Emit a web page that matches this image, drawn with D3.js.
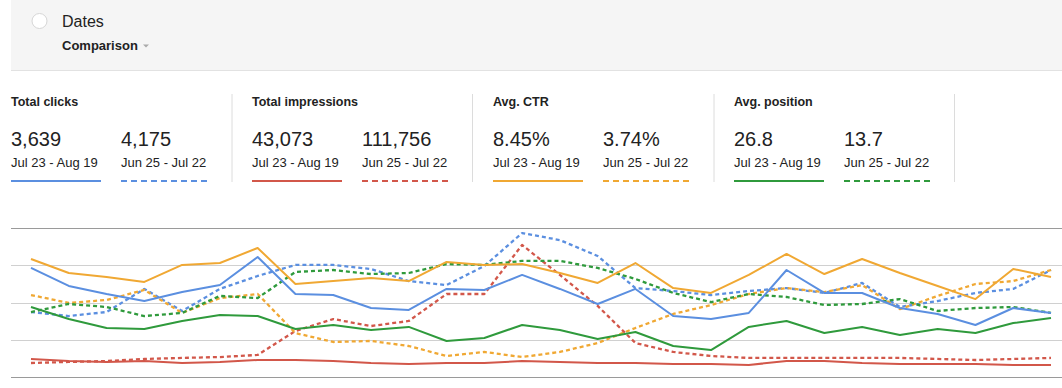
<!DOCTYPE html>
<html>
<head>
<meta charset="utf-8">
<script src="https://cdn.jsdelivr.net/npm/d3@7"></script>
<style>
    body { margin: 0; background: #fff; font-family: Arial, "Liberation Sans", sans-serif; }
</style>
</head>
<body>
<div id="chart"></div>
<script>
    // dagen van de huidige periode (Jul 23 - Aug 19)
    var days = [];
    for (var d = 0; d < 28; d++) {
        days.push(d3.timeFormat("%b %d")(new Date(2018, 6, 23 + d)));
    }

    // waarden, elke reeks op eigen schaal (0-100 = hoogte grafiek)
    var clicksNow = [73.2, 61.1, 55.7, 51.0, 57.0, 61.7, 80.5, 55.7, 55.0, 46.3, 45.0, 59.1, 58.4, 68.5, 59.1, 49.0, 59.1, 40.9, 38.9, 43.0, 71.8, 56.4, 56.4, 46.3, 42.3, 34.9, 46.3, 43.0];
    var clicksPrev = [43.6, 40.9, 43.6, 59.1, 44.3, 59.1, 67.8, 75.2, 75.2, 72.5, 64.4, 61.7, 74.5, 96.6, 91.9, 81.2, 59.7, 57.7, 55.0, 57.7, 59.7, 56.4, 63.1, 47.0, 51.0, 56.4, 59.1, 71.8];
    var imprNow = [12.1, 10.7, 10.1, 10.7, 9.4, 10.1, 11.4, 11.4, 10.7, 9.4, 8.7, 9.4, 9.4, 10.7, 10.1, 9.4, 9.4, 8.7, 8.7, 8.1, 10.7, 10.7, 9.4, 8.7, 8.7, 8.7, 8.1, 8.1];
    var imprPrev = [9.4, 10.1, 10.7, 12.1, 12.8, 13.4, 14.8, 30.9, 38.9, 34.2, 37.6, 55.7, 55.7, 88.6, 68.5, 47.7, 22.8, 16.8, 14.1, 12.8, 12.8, 12.8, 12.8, 12.8, 12.1, 11.4, 12.1, 12.8];
    var ctrNow = [79.2, 69.8, 67.1, 63.8, 75.2, 76.5, 86.6, 62.4, 64.4, 66.4, 64.4, 77.2, 75.2, 75.8, 69.8, 63.1, 76.5, 59.7, 56.4, 68.5, 82.6, 69.1, 79.2, 69.8, 61.1, 52.3, 72.5, 67.1];
    var ctrPrev = [55.0, 49.7, 51.7, 58.4, 43.0, 53.0, 55.7, 29.5, 23.5, 24.2, 20.8, 14.1, 16.8, 13.4, 16.8, 22.8, 32.9, 42.3, 48.3, 55.7, 59.7, 57.0, 61.7, 45.6, 54.4, 62.4, 64.4, 71.8];
    var posNow = [47.0, 38.9, 32.9, 32.2, 37.6, 41.6, 40.9, 32.2, 34.9, 31.5, 33.6, 24.2, 26.2, 34.9, 31.5, 25.5, 30.2, 20.8, 18.1, 33.6, 37.6, 29.5, 33.6, 28.2, 32.2, 29.5, 36.2, 39.6];
    var posPrev = [43.6, 49.0, 47.0, 40.9, 43.0, 54.4, 53.0, 70.5, 71.8, 69.1, 69.8, 75.8, 75.2, 77.9, 77.9, 73.2, 65.8, 56.4, 50.3, 55.7, 53.7, 48.3, 49.0, 52.3, 44.3, 46.3, 47.0, 43.0];

    var metricNames = ["Total clicks", "Total impressions", "Avg. CTR", "Avg. position"];
    var metricNow = ["3,639", "43,073", "8.45%", "26.8"];
    var metricPrev = ["4,175", "111,756", "3.74%", "13.7"];
    var periodNow = "Jul 23 - Aug 19";
    var periodPrev = "Jun 25 - Jul 22";
    var gridTicks = [0, 25, 50, 75, 100];

    var colors = ["#5b8fe0", "#d2574a", "#f0a833", "#2f9a3c"];

    var width = 1062;
    var height = 388;

    var svg = d3.select("#chart")
        .append("svg")
        .attr("width", width)
        .attr("height", height)
        .style("display", "block");

    // kopbalk
    svg.append("rect")
        .attr("x", 11).attr("y", 0)
        .attr("width", width - 11).attr("height", 70)
        .attr("fill", "#f5f5f5");
    svg.append("line")
        .attr("x1", 11).attr("x2", width)
        .attr("y1", 70.5).attr("y2", 70.5)
        .style("stroke", "#e2e2e2");
    svg.append("circle")
        .attr("cx", 39.5).attr("cy", 21)
        .attr("r", 7.5)
        .attr("fill", "#fff")
        .style("stroke", "#d6d6d6");
    svg.append("text")
        .attr("x", 62).attr("y", 27)
        .style("font-size", "16px")
        .style("fill", "#222")
        .text("Dates");
    svg.append("text")
        .attr("x", 62).attr("y", 50)
        .style("font-size", "13px")
        .style("font-weight", "bold")
        .style("fill", "#222")
        .text("Comparison");
    svg.append("path")
        .attr("d", "M143,44.5 L149,44.5 L146,47.5 Z")
        .attr("fill", "#aaa");

    // kaarten met totalen
    var cardX = [11, 252, 493, 734];
    var sepX = [232, 472.5, 714, 954.5];

    var cards = svg.selectAll(".card")
        .data(metricNames)
        .enter()
        .append("g")
        .attr("class", "card")
        .attr("transform", function (d, i) { return "translate(" + cardX[i] + ",0)"; });

    cards.append("text")
        .attr("x", 0).attr("y", 106)
        .style("font-size", "12.5px")
        .style("font-weight", "bold")
        .style("fill", "#222")
        .text(function (d) { return d; });

    [0, 110].forEach(function (off, k) {
        cards.append("text")
            .attr("x", off).attr("y", 146)
            .style("font-size", "20px")
            .style("fill", "#222")
            .text(function (d, i) { return k == 0 ? metricNow[i] : metricPrev[i]; });
        cards.append("text")
            .attr("x", off).attr("y", 166.5)
            .style("font-size", "13px")
            .style("fill", "#222")
            .text(k == 0 ? periodNow : periodPrev);
        cards.append("line")
            .attr("x1", off).attr("x2", off + 90)
            .attr("y1", 181).attr("y2", 181)
            .style("stroke", function (d, i) { return colors[i]; })
            .style("stroke-width", 2)
            .style("stroke-dasharray", k == 0 ? null : "6,4");
    });

    svg.selectAll(".sep")
        .data(sepX)
        .enter()
        .append("line")
        .attr("class", "sep")
        .attr("x1", function (d) { return d; })
        .attr("x2", function (d) { return d; })
        .attr("y1", 94).attr("y2", 182)
        .style("stroke", "#dcdcdc");

    // grafiek
    var x = d3.scalePoint()
        .domain(days)
        .range([31, 1051]);

    var y = d3.scaleLinear()
        .domain([0, 100])
        .range([377, 228]);

    svg.append("g")
        .selectAll("line")
        .data(gridTicks)
        .enter()
        .append("line")
        .attr("x1", 11).attr("x2", width)
        .attr("y1", function (d) { return Math.round(y(d)) + 0.5; })
        .attr("y2", function (d) { return Math.round(y(d)) + 0.5; })
        .style("stroke", function (d) { return (d == 0 || d == 100) ? "#9a9a9a" : "#d0d0d0"; });

    var line = d3.line()
        .x(function (d, i) { return x(days[i]); })
        .y(function (d) { return y(d); });

    var series = [
        { values: clicksPrev, color: colors[0], dashed: true },
        { values: imprPrev, color: colors[1], dashed: true },
        { values: ctrPrev, color: colors[2], dashed: true },
        { values: posPrev, color: colors[3], dashed: true },
        { values: imprNow, color: colors[1], dashed: false },
        { values: posNow, color: colors[3], dashed: false },
        { values: clicksNow, color: colors[0], dashed: false },
        { values: ctrNow, color: colors[2], dashed: false }
    ];

    svg.append("g")
        .selectAll("path")
        .data(series)
        .enter()
        .append("path")
        .attr("d", function (d) { return line(d.values); })
        .attr("fill", "none")
        .style("stroke", function (d) { return d.color; })
        .style("stroke-width", function (d) { return d.dashed ? 2.3 : 2; })
        .style("stroke-linejoin", "round")
        .style("stroke-dasharray", function (d) { return d.dashed ? "4,3" : null; });
</script>
</body>
</html>
